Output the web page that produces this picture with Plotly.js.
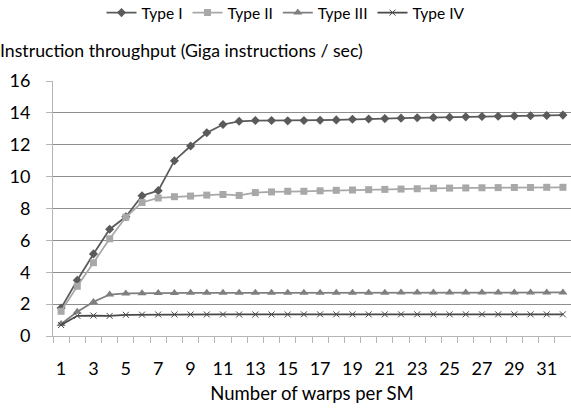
<!DOCTYPE html>
<html>
<head>
<meta charset="utf-8">
<script src="https://cdn.plot.ly/plotly-3.0.1.min.js"></script>
<style>html,body{margin:0;padding:0;background:#fff;}#chart{width:571px;height:410px;}</style>
</head>
<body>
<div id="chart"></div>
<script>
const warps = [1,2,3,4,5,6,7,8,9,10,11,12,13,14,15,16,17,18,19,20,21,22,23,24,25,26,27,28,29,30,31,32];
const typeI = [1.75,3.5,5.15,6.7,7.48,8.8,9.12,11.0,11.92,12.75,13.27,13.47,13.52,13.52,13.5,13.52,13.54,13.56,13.6,13.62,13.64,13.67,13.69,13.71,13.73,13.75,13.77,13.79,13.8,13.82,13.84,13.86];
const typeII = [1.55,3.12,4.6,6.1,7.45,8.38,8.66,8.74,8.78,8.84,8.88,8.82,9.0,9.04,9.08,9.08,9.11,9.14,9.16,9.18,9.2,9.22,9.24,9.27,9.28,9.29,9.3,9.31,9.32,9.32,9.33,9.33];
const typeIII = [0.75,1.52,2.14,2.6,2.67,2.69,2.7,2.7,2.71,2.71,2.71,2.71,2.71,2.72,2.72,2.72,2.72,2.72,2.72,2.72,2.72,2.73,2.73,2.73,2.73,2.73,2.73,2.73,2.73,2.73,2.73,2.73];
const typeIV = [0.69,1.27,1.28,1.26,1.33,1.34,1.35,1.35,1.35,1.35,1.35,1.35,1.35,1.35,1.35,1.36,1.36,1.36,1.36,1.36,1.36,1.36,1.36,1.36,1.36,1.36,1.36,1.36,1.36,1.36,1.36,1.36];
const seriesNames = ['Type I','Type II','Type III','Type IV'];
const tickLabels = ['1','3','5','7','9','11','13','15','17','19','21','23','25','27','29','31'];
const yTicks = [0,2,4,6,8,10,12,14,16];

const FONT = 'Lato, "Open Sans", sans-serif';
function tr(name, y, color, sym, size, lw) {
  return {x: warps, y: y, name: name, type: 'scatter', mode: 'lines+markers',
    line: {color: color, width: lw},
    marker: {symbol: sym, size: size, color: color, line: {color: color, width: sym.indexOf('x') === 0 ? 1 : 0}}};
}
const data = [
  tr(seriesNames[0], typeI, '#5a5a5a', 'diamond', 7, 1.75),
  tr(seriesNames[1], typeII, '#a8a8a8', 'square', 7, 1.75),
  tr(seriesNames[2], typeIII, '#7f7f7f', 'triangle-up', 8, 1.75),
  tr(seriesNames[3], typeIV, '#484848', 'x-thin', 6, 1.75)
];
const layout = {
  width: 571, height: 410,
  margin: {l: 53, r: 0, t: 81, b: 74},
  paper_bgcolor: '#fff', plot_bgcolor: '#fff',
  font: {family: FONT, size: 18, color: '#000'},
  title: {text: 'Instruction throughput (Giga instructions / sec)', xref: 'container', yref: 'container',
    x: 0.0, xanchor: 'left', y: 1 - 51/410, yanchor: 'middle', font: {family: FONT, size: 17.7, color: '#000'}},
  showlegend: true,
  legend: {orientation: 'h', xref: 'container', yref: 'container', x: 0.5, xanchor: 'center', y: 1 - 13/410, yanchor: 'middle',
    font: {family: FONT, size: 15.5, color: '#000'}, itemwidth: 30, tracegroupgap: 0, traceorder: 'normal'},
  xaxis: {
    range: [0.5, 32.5], showgrid: false, zeroline: false,
    showline: true, linecolor: '#b5b5b5', linewidth: 1,
    tickmode: 'array', tickvals: tickLabels.map(Number), ticktext: tickLabels,
    ticks: '', ticklabelstandoff: 16,
    minor: {tickmode: 'linear', tick0: 0.5, dtick: 1, ticks: 'outside', ticklen: 6, tickcolor: '#b5b5b5', showgrid: false},
    tickfont: {family: FONT, size: 18, color: '#000'},
    title: {text: 'Number of warps per SM', font: {family: FONT, size: 18.5, color: '#000'}, standoff: 9}
  },
  yaxis: {
    range: [0, 16], tickmode: 'array', tickvals: yTicks, ticktext: yTicks.map(String),
    showgrid: true, gridcolor: '#8e8e8e', gridwidth: 1, zeroline: false,
    showline: true, linecolor: '#b5b5b5', linewidth: 1,
    ticks: 'outside', ticklen: 6, tickcolor: '#b5b5b5', ticklabelstandoff: 12,
    tickfont: {family: FONT, size: 18, color: '#000'}
  }
};
Plotly.newPlot('chart', data, layout, {displayModeBar: false, staticPlot: true});
</script>
</body>
</html>
